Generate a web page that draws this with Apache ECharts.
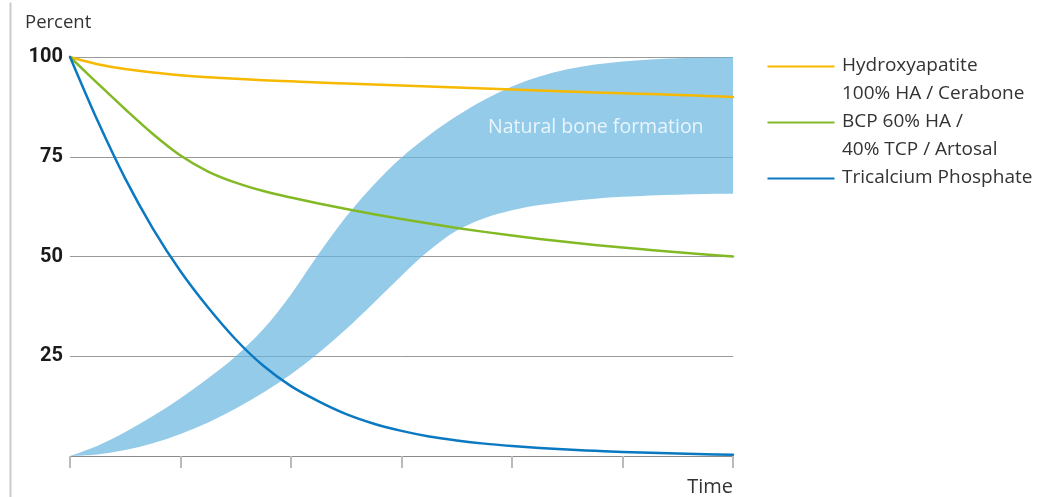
<!DOCTYPE html>
<html>
<head>
<meta charset="utf-8">
<script src="https://cdn.jsdelivr.net/npm/echarts@6/dist/echarts.min.js"></script>
<style>html,body{margin:0;padding:0;background:#fff}#c{width:1040px;height:497px}</style>
</head>
<body>
<div id="c"></div>
<script>
// Time positions (axis units 0..60, ticks every 10)
var timeX = [0, 2.5, 5, 7.5, 10, 12.5, 15, 17.5, 20, 22.5, 25, 27.5, 30, 32.5, 35, 37.5, 40, 42.5, 45, 47.5, 50, 52.5, 55, 57.5, 60];
var hydroxyapatite = [100, 98.2, 97.0, 96.1, 95.45, 94.95, 94.55, 94.2, 93.9, 93.6, 93.35, 93.1, 92.85, 92.6, 92.35, 92.1, 91.85, 91.6, 91.35, 91.1, 90.9, 90.7, 90.5, 90.25, 90.0];
var bcp = [100, 93.4, 86.9, 80.7, 75.3, 71.3, 68.5, 66.4, 64.8, 63.3, 61.9, 60.6, 59.4, 58.25, 57.17, 56.17, 55.25, 54.4, 53.62, 52.9, 52.24, 51.64, 51.06, 50.51, 50.0];
var tcp = [100, 84, 69.5, 57, 46.3, 37.2, 29.2, 22.6, 17.5, 13.7, 10.5, 8.1, 6.3, 4.9, 3.9, 3.1, 2.5, 2.0, 1.6, 1.3, 1.0, 0.8, 0.6, 0.45, 0.3];
var boneLower = [0, 0.4, 1.5, 3.2, 5.5, 8.4, 11.9, 15.9, 20.5, 25.8, 31.8, 38.4, 45.2, 51.5, 56.5, 59.6, 61.6, 62.9, 63.8, 64.5, 64.95, 65.3, 65.5, 65.65, 65.7];
var boneUpper = [0, 2.6, 6.0, 10.0, 14.5, 19.5, 25.0, 31.8, 40.5, 50.6, 60.0, 68.0, 74.8, 80.4, 85.2, 89.3, 92.6, 95.1, 96.9, 98.1, 98.9, 99.4, 99.7, 99.9, 100];
var yTicks = [0, 25, 50, 75, 100];
var seriesNames = ['Hydroxyapatite\n100% HA / Cerabone', 'BCP 60% HA /\n40% TCP / Artosal', 'Tricalcium Phosphate'];
var seriesColors = ['#F7B900', '#82B925', '#0A79C1'];
var bandLabel = 'Natural bone formation';

// Catmull-Rom -> cubic Bezier path through pixel points
function curvePath(pts, moveFirst) {
  var d = (moveFirst ? 'M' : 'L') + pts[0][0] + ' ' + pts[0][1];
  for (var i = 0; i < pts.length - 1; i++) {
    var p0 = pts[i - 1] || pts[i], p1 = pts[i], p2 = pts[i + 1], p3 = pts[i + 2] || pts[i + 1];
    var c1x = p1[0] + (p2[0] - p0[0]) / 6, c1y = p1[1] + (p2[1] - p0[1]) / 6;
    var c2x = p2[0] - (p3[0] - p1[0]) / 6, c2y = p2[1] - (p3[1] - p1[1]) / 6;
    d += ' C' + c1x + ' ' + c1y + ' ' + c2x + ' ' + c2y + ' ' + p2[0] + ' ' + p2[1];
  }
  return d;
}

function lineSeries(name, values, color) {
  var data = timeX.map(function (x, i) { return [x, values[i]]; });
  return {
    type: 'custom', name: name, data: data, z: 3, encode: { x: 0, y: 1 },
    renderItem: function (params, api) {
      if (params.dataIndex !== 0) return null;
      var pts = data.map(function (d) { return api.coord(d); });
      return {
        type: 'path', shape: { pathData: curvePath(pts, true) },
        style: { fill: null, stroke: color, lineWidth: 2.5, lineCap: 'round', lineJoin: 'round' }
      };
    }
  };
}

var chart = echarts.init(document.getElementById('c'), null, { renderer: 'canvas' });
var font = '"Open Sans", Roboto, sans-serif';

var legendGraphics = [];
var ly = [65, 121, 177];
seriesNames.forEach(function (n, i) {
  legendGraphics.push({ type: 'line', left: 765, top: ly[i] - 1, shape: { x1: 0, y1: 0, x2: 67, y2: 0 }, style: { stroke: seriesColors[i], lineWidth: 2 } });
  legendGraphics.push({ type: 'text', left: 842, top: ly[i] - 13, style: { text: n, font: '19px ' + font, fill: '#333', lineHeight: 28 } });
});

var bandData = timeX.map(function (x, i) { return [x, boneLower[i], boneUpper[i]]; });

var option = {
  animation: false,
  grid: { left: 70, right: 307, top: 57, bottom: 41, containLabel: false },
  xAxis: {
    type: 'value', min: 0, max: 60, interval: 10,
    axisLine: { show: true, lineStyle: { color: '#8a8a8a', width: 1 } },
    axisTick: { show: true, length: 12, lineStyle: { color: '#bbbbbb', width: 2 } },
    axisLabel: { show: false },
    splitLine: { show: false }
  },
  yAxis: {
    type: 'value', min: yTicks[0], max: yTicks[yTicks.length - 1], interval: 25,
    axisLine: { show: false }, axisTick: { show: false },
    axisLabel: {
      margin: 7, color: '#1a1a1a', fontSize: 20, fontWeight: 'bold', fontFamily: 'Roboto, sans-serif',
      formatter: function (v) { return v === 0 ? '' : String(v); }
    },
    splitLine: { show: true, lineStyle: { color: '#999999', width: 1 } }
  },
  series: [
    {
      type: 'custom', name: bandLabel, data: bandData, silent: true, z: 1,
      encode: { x: 0, y: [1, 2] },
      renderItem: function (params, api) {
        if (params.dataIndex !== 0) return null;
        var up = bandData.map(function (d) { return api.coord([d[0], d[2]]); });
        var lo = bandData.map(function (d) { return api.coord([d[0], d[1]]); }).reverse();
        var d = curvePath(up, true) + ' ' + curvePath(lo, false) + ' Z';
        return {
          type: 'path', shape: { pathData: d },
          style: { fill: 'rgba(101,181,224,0.7)', stroke: null }
        };
      }
    },
    lineSeries(seriesNames[0], hydroxyapatite, seriesColors[0]),
    lineSeries(seriesNames[1], bcp, seriesColors[1]),
    lineSeries(seriesNames[2], tcp, seriesColors[2])
  ],
  graphic: [
    { type: 'line', left: 8, top: 0, shape: { x1: 0, y1: 0, x2: 0, y2: 497 }, style: { stroke: '#cccccc', lineWidth: 2 } },
    { type: 'text', left: 25, top: 13, style: { text: 'Percent', font: '18.5px ' + font, fill: '#333' } },
    { type: 'text', right: 307, top: 477, style: { text: 'Time', font: '20px ' + font, fill: '#333' } },
    { type: 'text', left: 488, top: 117, z: 10, style: { text: bandLabel, font: '19.5px ' + font, fill: '#EAF5FC' } }
  ].concat(legendGraphics)
};
chart.setOption(option);
</script>
</body>
</html>
